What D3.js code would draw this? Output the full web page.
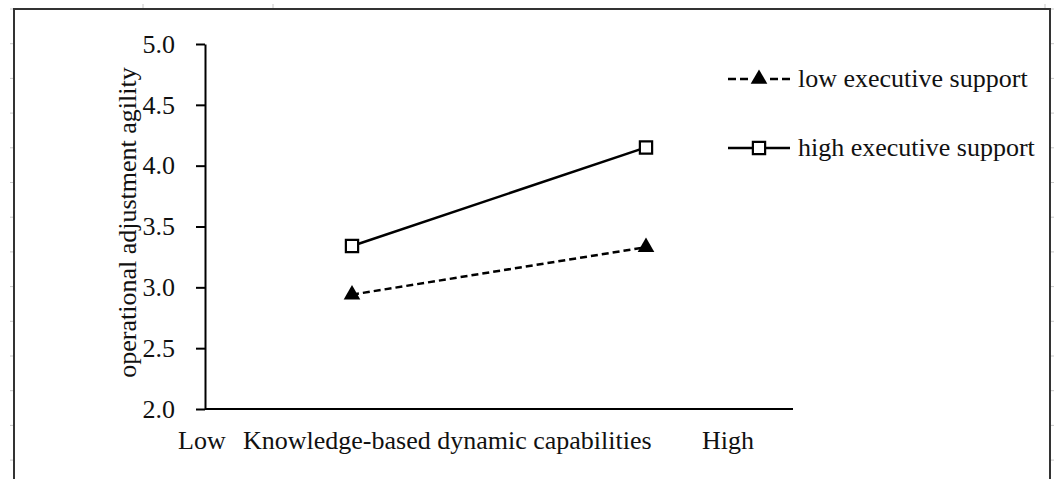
<!DOCTYPE html>
<meta charset="utf-8">
<head>
    <script src="https://cdn.jsdelivr.net/npm/d3@7"></script>
    <style>
        body { margin: 0; background: #fff; }
        svg text { font-family: "Liberation Serif", "Times New Roman", "DejaVu Serif", serif; fill: #111; }
        .axis path, .axis line { stroke: #000; stroke-width: 2px; }
        .axis text { font-size: 26px; }
    </style>
</head>
<body>
<script type="text/javascript">

    var levels = ["Low", "High"];
    var yTicks = [2.0, 2.5, 3.0, 3.5, 4.0, 4.5, 5.0];
    var lowSupport = [2.94, 3.33];
    var highSupport = [3.34, 4.15];
    var seriesNames = ["low executive support", "high executive support"];

    var width = 1056, height = 479;
    var font = "26px";

    var svg = d3.select("body").append("svg")
        .attr("width", width)
        .attr("height", height);

    // faint sheet ticks outside the frame
    var sheet = svg.append("g").attr("stroke", "#c8c8c8").attr("stroke-width", 1);
    d3.range(9, height, 34.7).forEach(function (y) {
        sheet.append("line").attr("x1", 10).attr("x2", 14).attr("y1", y).attr("y2", y);
        sheet.append("line").attr("x1", 1050).attr("x2", 1054).attr("y1", y).attr("y2", y);
    });
    [143, 273, 1045].forEach(function (x) {
        sheet.append("line").attr("x1", x).attr("x2", x).attr("y1", 4).attr("y2", 9);
    });

    // chart frame
    svg.append("rect")
        .attr("x", 14).attr("y", 9)
        .attr("width", 1036).attr("height", 480)
        .attr("fill", "none")
        .attr("stroke", "#333")
        .attr("stroke-width", 2);

    var x = d3.scalePoint().domain(levels).range([205, 793]).padding(0.5);
    var y = d3.scaleLinear().domain([2, 5]).range([409, 44]);

    // y axis
    svg.append("g")
        .attr("class", "axis")
        .attr("transform", "translate(205,0)")
        .call(d3.axisLeft(y)
            .tickValues(yTicks)
            .tickFormat(d3.format(".1f"))
            .tickSize(9)
            .tickSizeOuter(0)
            .tickPadding(21));

    // x axis line
    svg.append("line")
        .attr("x1", x.range()[0]).attr("x2", x.range()[1])
        .attr("y1", y(2)).attr("y2", y(2))
        .attr("stroke", "#000").attr("stroke-width", 2);

    // axis titles
    svg.append("text")
        .attr("transform", "translate(136," + ((y(5) + y(2)) / 2 - 4) + ") rotate(-90)")
        .attr("text-anchor", "middle")
        .attr("font-size", font)
        .text("operational adjustment agility");

    svg.append("text").attr("x", 178).attr("y", 449).attr("font-size", font).text("Low");
    svg.append("text").attr("x", 243).attr("y", 449).attr("font-size", font).text("Knowledge-based dynamic capabilities");
    svg.append("text").attr("x", 702).attr("y", 449).attr("font-size", font).text("High");

    var line = d3.line()
        .x(function (d, i) { return x(levels[i]); })
        .y(function (d) { return y(d); });

    // low executive support (dashed, triangles)
    svg.append("path")
        .datum(lowSupport)
        .attr("d", line)
        .attr("fill", "none")
        .attr("stroke", "#000")
        .attr("stroke-width", 2.5)
        .attr("stroke-dasharray", "7,4");

    var tri = d3.symbol().type(d3.symbolTriangle).size(120);
    var sq = d3.symbol().type(d3.symbolSquare).size(150);

    svg.selectAll(".tri")
        .data(lowSupport)
        .enter().append("path")
        .attr("class", "tri")
        .attr("d", tri)
        .attr("transform", function (d, i) { return "translate(" + x(levels[i]) + "," + y(d) + ")"; })
        .attr("fill", "#000");

    // high executive support (solid, squares)
    svg.append("path")
        .datum(highSupport)
        .attr("d", line)
        .attr("fill", "none")
        .attr("stroke", "#000")
        .attr("stroke-width", 2.5);

    svg.selectAll(".sq")
        .data(highSupport)
        .enter().append("path")
        .attr("class", "sq")
        .attr("d", sq)
        .attr("transform", function (d, i) { return "translate(" + x(levels[i]) + "," + y(d) + ")"; })
        .attr("fill", "#fff")
        .attr("stroke", "#000")
        .attr("stroke-width", 2.2);

    // legend
    var legend = svg.append("g").attr("transform", "translate(728,0)");
    var rows = [79, 148];

    [[0, 20], [42, 62]].forEach(function (seg) {
        legend.append("line")
            .attr("x1", seg[0]).attr("x2", seg[1]).attr("y1", rows[0]).attr("y2", rows[0])
            .attr("stroke", "#000").attr("stroke-width", 2.5).attr("stroke-dasharray", "8,4");
    });
    legend.append("path").attr("d", tri)
        .attr("transform", "translate(31," + rows[0] + ")")
        .attr("fill", "#000");
    legend.append("line")
        .attr("x1", 0).attr("x2", 62).attr("y1", rows[1]).attr("y2", rows[1])
        .attr("stroke", "#000").attr("stroke-width", 2.5);
    legend.append("path").attr("d", sq)
        .attr("transform", "translate(31," + rows[1] + ")")
        .attr("fill", "#fff").attr("stroke", "#000").attr("stroke-width", 2.2);

    legend.selectAll(".lab")
        .data(seriesNames)
        .enter().append("text")
        .attr("class", "lab")
        .attr("x", 70)
        .attr("y", function (d, i) { return rows[i] + 8; })
        .attr("font-size", font)
        .text(function (d) { return d; });

</script>
</body>
</html>
